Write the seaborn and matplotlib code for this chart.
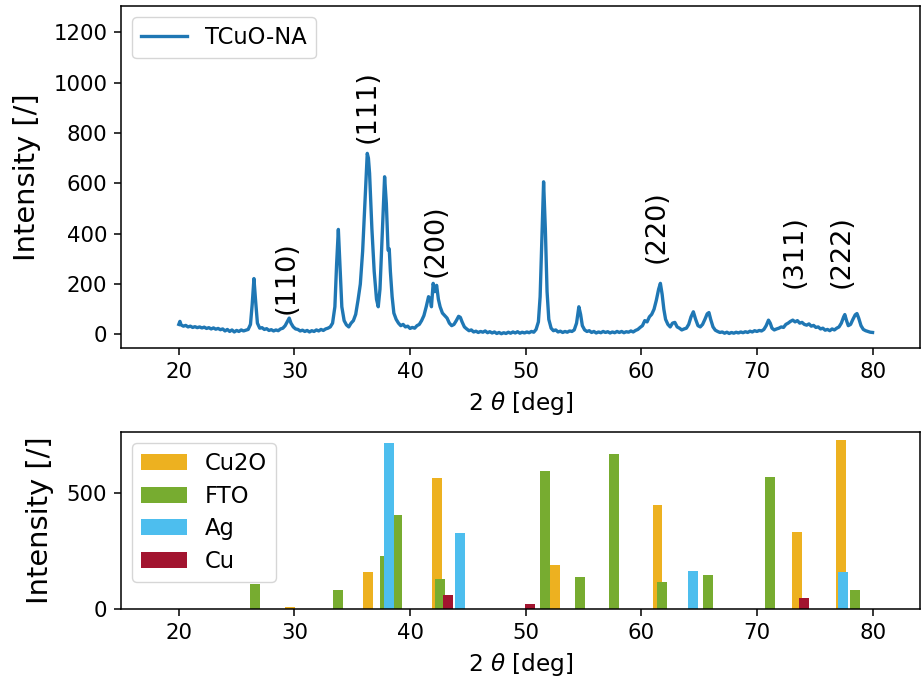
import matplotlib
matplotlib.use('Agg')
import matplotlib.pyplot as plt
import seaborn as sns
import pandas as pd

# --- measured XRD pattern of TCuO-NA (2theta, intensity) ---
two_theta = [
    20.0, 20.1, 20.2, 20.4, 20.6, 20.8, 21.0, 21.2, 21.4, 21.6, 21.8, 22.0, 22.2, 22.4, 22.6, 22.8,
    23.0, 23.2, 23.4, 23.6, 23.8, 24.0, 24.2, 24.4, 24.6, 24.8, 25.0, 25.2, 25.4, 25.6, 25.8, 26.0,
    26.2, 26.35, 26.5, 26.65, 26.8, 27.0, 27.2, 27.4, 27.6, 27.8, 28.0, 28.2, 28.4, 28.6, 28.8, 29.0,
    29.2, 29.4, 29.55, 29.7, 29.9, 30.1, 30.3, 30.5, 30.7, 30.9, 31.1, 31.3, 31.5, 31.7, 31.9, 32.1,
    32.3, 32.5, 32.7, 32.9, 33.1, 33.3, 33.5, 33.65, 33.8, 33.95, 34.1, 34.3, 34.5, 34.7, 34.9, 35.1,
    35.3, 35.5, 35.7, 35.9, 36.1, 36.3, 36.4, 36.5, 36.7, 36.9, 37.1, 37.25, 37.4, 37.6, 37.8, 37.95,
    38.1, 38.2, 38.3, 38.45, 38.6, 38.8, 39.0, 39.2, 39.4, 39.6, 39.8, 40.0, 40.2, 40.4, 40.6, 40.8,
    41.0, 41.2, 41.4, 41.6, 41.75, 41.85, 42.0, 42.15, 42.3, 42.45, 42.6, 42.8, 43.0, 43.2, 43.4, 43.6,
    43.8, 44.0, 44.2, 44.35, 44.5, 44.7, 44.9, 45.1, 45.3, 45.5, 45.7, 45.9, 46.1, 46.3, 46.5, 46.7,
    46.9, 47.1, 47.3, 47.5, 47.7, 47.9, 48.1, 48.3, 48.5, 48.7, 48.9, 49.1, 49.3, 49.5, 49.7, 49.9,
    50.1, 50.3, 50.5, 50.7, 50.9, 51.1, 51.25, 51.4, 51.55, 51.7, 51.85, 52.0, 52.2, 52.4, 52.6, 52.8,
    53.0, 53.2, 53.4, 53.6, 53.8, 54.0, 54.2, 54.4, 54.6, 54.75, 54.9, 55.1, 55.3, 55.5, 55.7, 55.9,
    56.1, 56.3, 56.5, 56.7, 56.9, 57.1, 57.3, 57.5, 57.7, 57.9, 58.1, 58.3, 58.5, 58.7, 58.9, 59.1,
    59.3, 59.5, 59.7, 59.9, 60.1, 60.3, 60.5, 60.7, 60.9, 61.1, 61.3, 61.5, 61.65, 61.8, 61.95, 62.1,
    62.3, 62.5, 62.7, 62.9, 63.1, 63.3, 63.5, 63.7, 63.9, 64.1, 64.3, 64.5, 64.7, 64.9, 65.1, 65.3,
    65.5, 65.7, 65.85, 66.0, 66.2, 66.4, 66.6, 66.8, 67.0, 67.2, 67.4, 67.6, 67.8, 68.0, 68.2, 68.4,
    68.6, 68.8, 69.0, 69.2, 69.4, 69.6, 69.8, 70.0, 70.2, 70.4, 70.6, 70.8, 71.0, 71.15, 71.3, 71.5,
    71.7, 71.9, 72.1, 72.3, 72.5, 72.7, 72.9, 73.1, 73.3, 73.5, 73.7, 73.9, 74.1, 74.3, 74.5, 74.7,
    74.9, 75.1, 75.3, 75.5, 75.7, 75.9, 76.1, 76.3, 76.5, 76.7, 76.9, 77.1, 77.3, 77.5, 77.6, 77.75,
    77.9, 78.1, 78.3, 78.5, 78.65, 78.8, 79.0, 79.2, 79.4, 79.6, 79.8, 80.0,
]
intensity = [
    40, 52, 38, 33, 36, 30, 33, 28, 31, 27, 30, 26, 29, 24, 27, 22,
    26, 21, 24, 19, 22, 14, 20, 12, 18, 10, 16, 12, 18, 14, 17, 20,
    40, 120, 222, 130, 45, 25, 27, 20, 23, 16, 19, 14, 18, 15, 22, 25,
    35, 52, 65, 45, 30, 22, 20, 14, 17, 12, 16, 10, 15, 12, 18, 14,
    20, 16, 22, 25, 30, 45, 110, 280, 417, 260, 110, 55, 38, 30, 45, 55,
    80, 136, 200, 330, 520, 719, 700, 640, 420, 250, 140, 110, 180, 400, 626, 520,
    335, 340, 250, 150, 85, 60, 45, 35, 40, 30, 33, 24, 28, 25, 35, 40,
    55, 75, 110, 150, 140, 110, 203, 170, 195, 140, 110, 85, 75, 65, 45, 35,
    40, 55, 72, 68, 50, 30, 22, 15, 18, 10, 13, 8, 12, 9, 14, 7,
    11, 6, 10, 4, 8, 3, 7, 4, 9, 5, 10, 6, 11, 5, 9, 6,
    10, 7, 12, 9, 20, 50, 150, 380, 606, 420, 170, 60, 25, 15, 18, 10,
    13, 8, 12, 9, 14, 12, 18, 45, 110, 80, 35, 18, 12, 15, 8, 12,
    6, 10, 7, 12, 8, 11, 6, 10, 7, 12, 8, 12, 7, 11, 9, 14,
    10, 16, 20, 28, 35, 55, 50, 70, 80, 100, 136, 180, 203, 160, 100, 60,
    40, 30, 45, 48, 30, 25, 18, 22, 25, 40, 70, 90, 60, 35, 30, 40,
    60, 82, 87, 60, 30, 17, 12, 8, 10, 5, 9, 4, 8, 5, 9, 6,
    10, 7, 11, 8, 13, 10, 15, 12, 16, 14, 20, 35, 57, 45, 25, 18,
    22, 25, 30, 28, 40, 45, 52, 57, 50, 55, 45, 48, 40, 37, 42, 33,
    36, 28, 30, 22, 25, 17, 20, 15, 22, 18, 25, 30, 45, 70, 79, 55,
    35, 40, 60, 78, 83, 65, 35, 20, 15, 12, 9, 8,
]

# Miller indices marked on the pattern
hkl_labels = ['(110)', '(111)', '(200)', '(220)', '(311)', '(222)']
hkl_x = [29.3, 36.3, 42.2, 61.3, 73.3, 77.3]
hkl_y = [83, 759, 229, 283, 184, 184]

# Reference peaks (2theta, relative intensity)
cu2o_pos = [29.6, 36.4, 42.3, 52.5, 61.4, 73.5, 77.3]
cu2o_int = [8, 161, 566, 191, 450, 333, 730]
fto_pos = [26.6, 33.8, 37.8, 38.9, 42.6, 51.7, 54.7, 57.6, 61.8, 65.8, 71.1, 78.5]
fto_int = [108, 83, 230, 406, 131, 596, 139, 669, 118, 148, 570, 83]
ag_pos = [38.2, 44.35, 64.45, 77.45]
ag_int = [718, 329, 165, 161]
cu_pos = [43.3, 50.4, 74.1]
cu_int = [62, 23, 49]

top_yticks = [0, 200, 400, 600, 800, 1000, 1200]
bottom_yticks = [0, 500]

colores = {'Cu2O': '#EDB120', 'FTO': '#77AC30', 'Ag': '#4DBEEE', 'Cu': '#A2142F'}

plt.rcParams['axes.linewidth'] = 1.1
plt.rcParams['axes.labelpad'] = 5.6
for ax_name in ['xtick', 'ytick']:
    plt.rcParams[f'{ax_name}.major.size'] = 4.9
    plt.rcParams[f'{ax_name}.major.width'] = 1.1
    plt.rcParams[f'{ax_name}.major.pad'] = 4.9
    plt.rcParams[f'{ax_name}.labelsize'] = 15.3

fig = plt.figure(figsize=(9.22, 6.81), dpi=100)
ax1 = fig.add_axes([0.1312, 0.4885, 0.8666, 0.5027])
ax2 = fig.add_axes([0.1312, 0.1053, 0.8666, 0.2608])

df = pd.DataFrame({'2theta': two_theta, 'intensity': intensity})
sns.lineplot(data=df, x='2theta', y='intensity', ax=ax1, color='#1f77b4',
             linewidth=2.4, label='TCuO-NA')
for lab, xx, yy in zip(hkl_labels, hkl_x, hkl_y):
    ax1.text(xx, yy, lab, rotation=90, ha='center', va='bottom', fontsize=19.5)
ax1.set_xlim(15, 84.1)
ax1.set_ylim(-55, 1304)
ax1.set_yticks(top_yticks)
ax1.set_xlabel(r'2 $\theta$ [deg]', fontsize=16.7)
ax1.set_ylabel('Intensity [/]', fontsize=20.8, labelpad=9)
ax1.legend(loc='upper left', fontsize=16.3)

ancho = 0.86
ax2.bar(cu2o_pos, cu2o_int, width=ancho, color=colores['Cu2O'], label='Cu2O')
ax2.bar(fto_pos, fto_int, width=ancho, color=colores['FTO'], label='FTO')
ax2.bar(ag_pos, ag_int, width=ancho, color=colores['Ag'], label='Ag')
ax2.bar(cu_pos, cu_int, width=ancho, color=colores['Cu'], label='Cu')
ax2.set_xlim(15, 84.1)
ax2.set_yticks(bottom_yticks)
ax2.set_xlabel(r'2 $\theta$ [deg]', fontsize=16.7)
ax2.set_ylabel('Intensity [/]', fontsize=20.8, labelpad=9)
ax2.legend(loc='upper left', fontsize=16.3, labelspacing=0.42)

fig.savefig('out.png', dpi=100)
plt.close()
